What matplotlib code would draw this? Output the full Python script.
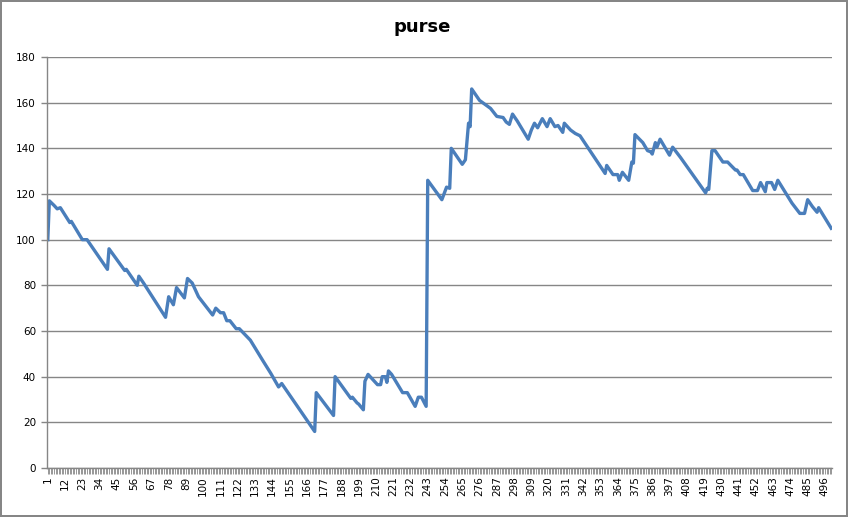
import numpy as np
import matplotlib
matplotlib.use("Agg")
import matplotlib.pyplot as plt

# data: step index (category) and purse value at each turning point
step = [1, 2, 5, 7, 9, 15, 16, 23, 26, 39, 40, 50, 51, 58, 59, 62, 76, 78, 81, 83,
        88, 90, 93, 97, 106, 108, 111, 113, 115, 117, 121, 123, 130, 138, 143, 148, 150,
        171, 172, 183, 184, 194, 195, 198, 199, 202, 203, 205, 211, 213, 214, 216, 217,
        218, 220, 227, 230, 235, 237, 239, 242, 243, 252, 255, 257, 258, 265, 267, 269,
        270, 271, 273, 276, 283, 287, 291, 293, 295, 297, 300, 307, 309, 311, 313, 316,
        319, 321, 324, 326, 329, 330, 334, 337, 340, 356, 357, 361, 364, 365, 367, 371,
        373, 374, 375, 380, 383, 385, 386, 388, 389, 391, 397, 399, 404, 420, 421, 422,
        424, 426, 431, 434, 439, 440, 442, 444, 450, 453, 455, 458, 459, 462, 464, 466,
        475, 480, 483, 485, 488, 491, 492, 500]
purse = [100, 117, 115, 113.5, 114, 107.5, 108, 100, 100, 87, 96, 86.5, 87, 80, 84, 81,
         66, 75, 71.5, 79, 74.5, 83, 81, 75, 67, 70, 68, 68, 64.5, 64.5, 61, 61, 56, 47,
         41.5, 35.5, 37, 16, 33, 23, 40, 30.5, 31, 28.5, 28, 25.5, 38, 41, 36.5, 36.5, 40,
         40, 37.5, 42.5, 41, 33, 33, 27, 31, 31, 27, 126, 117.5, 123, 122.5, 140, 133, 135,
         151, 149.5, 166, 164, 161, 157.5, 154, 153.5, 151.5, 150.5, 155, 152, 144, 148,
         151, 149, 153, 149.5, 153, 149.5, 150, 147, 151, 148, 146.5, 145.5, 129, 132.5,
         128.5, 128.5, 126, 129.5, 126, 134, 133.5, 146, 142.5, 139, 138.5, 137.5, 142.5,
         140.5, 144, 137, 140.5, 136, 120.5, 122.5, 122, 139, 139, 134, 134, 130.5, 130.5,
         128.5, 128.5, 121.5, 121.5, 125, 121, 125, 125, 122, 126, 116, 111.5, 111.5,
         117.5, 114.5, 112, 114, 105]
n_steps = 500
y_ticks = [0, 20, 40, 60, 80, 100, 120, 140, 160, 180]

W, H = 848, 517
fig = plt.figure(figsize=(W / 100, H / 100), dpi=100)
fig.patch.set_edgecolor("#868686")
fig.patch.set_linewidth(1.5)

ax = fig.add_axes([47 / W, 1 - 468 / H, (832 - 47) / W, (468 - 57) / H])
ax.plot(step, purse, color="#4a7ebb", linewidth=2.4, solid_joinstyle="round")

ax.set_xlim(0.5, n_steps + 0.5)
ax.set_ylim(0, 180)
ax.set_yticks(y_ticks)
ax.yaxis.grid(True, color="#868686", linewidth=1)
ax.set_axisbelow(True)

cats = np.arange(1, n_steps + 1)
ax.set_xticks(cats)
ax.set_xticklabels([str(c) if (c - 1) % 11 == 0 else "" for c in cats],
                   rotation=90, fontsize=7.5)
ax.tick_params(axis="x", length=4, width=0.6, color="#868686", pad=2)
ax.tick_params(axis="y", length=4, width=1, color="#868686", labelsize=7.5, pad=4)

for s in ["top", "right"]:
    ax.spines[s].set_visible(False)
for s in ["left", "bottom"]:
    ax.spines[s].set_color("#868686")
    ax.spines[s].set_linewidth(1)

fig.text(422 / W, 1 - 27 / H, "purse", ha="center", va="center",
         fontsize=13, fontweight="bold")

fig.savefig("out.png", dpi=100, edgecolor=fig.get_edgecolor())
